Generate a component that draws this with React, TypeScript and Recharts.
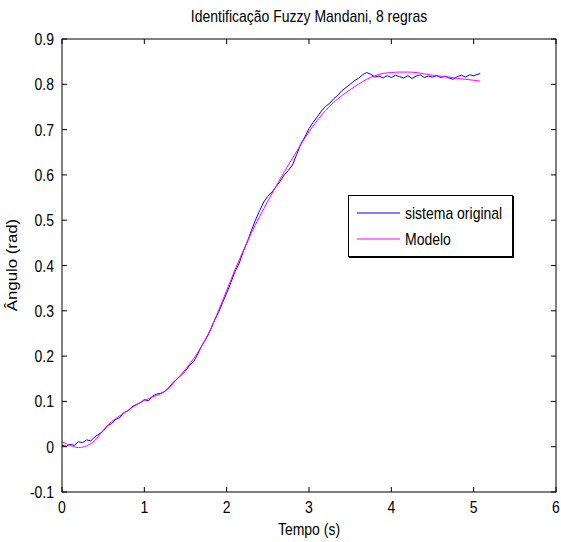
import React from "react";
import {
  LineChart,
  Line,
  XAxis,
  YAxis,
  Legend,
  Label,
} from "recharts";

// tempo (s) e ângulo (rad) do sistema original (amostras)
const tempoSistema = [
  0, 0.05, 0.1, 0.15, 0.2, 0.25, 0.3, 0.35, 0.4, 0.45,
  0.5, 0.55, 0.6, 0.65, 0.7, 0.75, 0.8, 0.85, 0.9, 0.95,
  1.0, 1.05, 1.1, 1.15, 1.2, 1.25, 1.3, 1.35, 1.4, 1.45,
  1.5, 1.55, 1.6, 1.65, 1.7, 1.75, 1.8, 1.85, 1.9, 1.95,
  2.0, 2.05, 2.1, 2.15, 2.2, 2.25, 2.3, 2.35, 2.4, 2.45,
  2.5, 2.55, 2.6, 2.65, 2.7, 2.75, 2.8, 2.85, 2.9, 2.95,
  3.0, 3.05, 3.1, 3.15, 3.2, 3.25, 3.3, 3.35, 3.4, 3.45,
  3.5, 3.55, 3.6, 3.65, 3.7, 3.75, 3.8, 3.85, 3.9, 3.95,
  4.0, 4.05, 4.1, 4.15, 4.2, 4.25, 4.3, 4.35, 4.4, 4.45,
  4.5, 4.55, 4.6, 4.65, 4.7, 4.75, 4.8, 4.85, 4.9, 4.95,
  5.0, 5.08,
];
const anguloSistema = [
  0.003, 0.001, 0.005, 0.003, 0.011, 0.009, 0.015, 0.013, 0.022, 0.028,
  0.034, 0.046, 0.051, 0.06, 0.064, 0.075, 0.079, 0.088, 0.093, 0.097,
  0.104, 0.101, 0.112, 0.116, 0.118, 0.122, 0.131, 0.142, 0.15, 0.158,
  0.167, 0.18, 0.188, 0.205, 0.224, 0.238, 0.256, 0.278, 0.296, 0.318,
  0.339, 0.362, 0.386, 0.404, 0.43, 0.452, 0.477, 0.5, 0.521, 0.54,
  0.553, 0.562, 0.574, 0.586, 0.6, 0.61, 0.622, 0.645, 0.668, 0.684,
  0.702, 0.716, 0.728, 0.741, 0.751, 0.758, 0.768, 0.776, 0.786, 0.793,
  0.8, 0.808, 0.813, 0.821, 0.826, 0.822, 0.816, 0.818, 0.814, 0.819,
  0.815, 0.82, 0.817, 0.814, 0.819, 0.813, 0.818, 0.821, 0.815, 0.818,
  0.816, 0.819, 0.815, 0.818, 0.814, 0.811, 0.817, 0.82, 0.816, 0.821,
  0.819, 0.824,
];

// saída do modelo fuzzy
const tempoModelo = [
  0, 0.1, 0.2, 0.3, 0.4, 0.5, 0.6, 0.7, 0.8, 0.9,
  1.0, 1.1, 1.2, 1.3, 1.4, 1.5, 1.6, 1.7, 1.8, 1.9,
  2.0, 2.1, 2.2, 2.3, 2.4, 2.5, 2.6, 2.7, 2.8, 2.9,
  3.0, 3.1, 3.2, 3.3, 3.4, 3.5, 3.6, 3.7, 3.8, 3.9,
  4.0, 4.1, 4.2, 4.3, 4.4, 4.5, 4.6, 4.7, 4.8, 4.9,
  5.0, 5.08,
];
const anguloModelo = [
  0.011, 0.003, -0.002, 0.002, 0.014, 0.036, 0.055, 0.068, 0.08, 0.092,
  0.102, 0.11, 0.117, 0.13, 0.15, 0.171, 0.195, 0.223, 0.258, 0.3,
  0.345, 0.39, 0.432, 0.472, 0.508, 0.542, 0.575, 0.607, 0.637, 0.667,
  0.695, 0.72, 0.742, 0.76, 0.775, 0.788, 0.8, 0.811, 0.819, 0.824,
  0.826, 0.827, 0.827, 0.826, 0.823, 0.82, 0.818, 0.816, 0.813, 0.811,
  0.809, 0.807,
];

const xTicks = [0, 1, 2, 3, 4, 5, 6];
const yTicks = [-0.1, 0, 0.1, 0.2, 0.3, 0.4, 0.5, 0.6, 0.7, 0.8, 0.9];

const sistemaData = tempoSistema.map((t, i) => ({ t, v: anguloSistema[i] }));
const modeloData = tempoModelo.map((t, i) => ({ t, v: anguloModelo[i] }));

const FONT = "'Liberation Sans', Arial, Helvetica, sans-serif";
const TICK_LEN = 5;

// texto um pouco esticado na vertical, como no original
const Txt = ({ x, y, anchor = "start", rotate = 0, children }: any) => (
  <text
    transform={`translate(${x},${y}) scale(1,1.2) rotate(${rotate})`}
    textAnchor={anchor}
    fontFamily={FONT}
    fontSize={14}
    fill="#000"
  >
    {children}
  </text>
);

const BottomTick = (props: any) => {
  const { x, y, payload } = props;
  return (
    <g>
      <line x1={x} x2={x} y1={y} y2={y - TICK_LEN} stroke="#000" />
      <Txt x={x} y={y + 21} anchor="middle">
        {String(payload.value)}
      </Txt>
    </g>
  );
};

const TopTick = (props: any) => {
  const { x, y } = props;
  return <line x1={x} x2={x} y1={y} y2={y + TICK_LEN} stroke="#000" />;
};

const LeftTick = (props: any) => {
  const { x, y, payload } = props;
  return (
    <g>
      <line x1={x} x2={x + TICK_LEN} y1={y} y2={y} stroke="#000" />
      <Txt x={x - 8} y={y + 6} anchor="end">
        {String(payload.value)}
      </Txt>
    </g>
  );
};

const RightTick = (props: any) => {
  const { x, y } = props;
  return <line x1={x} x2={x - TICK_LEN} y1={y} y2={y} stroke="#000" />;
};

const LegendBox = () => (
  <div
    style={{
      width: 165,
      height: 62,
      border: "1px solid #000",
      boxSizing: "border-box",
      background: "#fff",
      boxShadow: "1px 1px 0 #000",
    }}
  >
    <svg width={163} height={60} style={{ display: "block" }}>
      <line x1={8} x2={51} y1={17} y2={17} stroke="#0000ff" />
      <Txt x={56} y={23}>sistema original</Txt>
      <line x1={8} x2={51} y1={43} y2={43} stroke="#ff00ff" />
      <Txt x={56} y={49}>Modelo</Txt>
    </svg>
  </div>
);

export default function App() {
  return (
    <div style={{ position: "absolute", left: 0, top: 0, width: 561, height: 542, background: "#fff" }}>
      <LineChart width={561} height={542} margin={{ top: 38, right: 4, bottom: 0, left: 0 }}>
        <XAxis
          dataKey="t"
          type="number"
          domain={[0, 6]}
          ticks={xTicks}
          height={50}
          tickSize={0}
          tickMargin={0}
          tick={BottomTick}
          axisLine={{ stroke: "#000" }}
          label={<Label content={() => <Txt x={309} y={535} anchor="middle">Tempo (s)</Txt>} />}
        />
        <XAxis
          xAxisId="top"
          dataKey="t"
          orientation="top"
          type="number"
          domain={[0, 6]}
          ticks={xTicks}
          height={1}
          tickSize={0}
          tickMargin={0}
          tick={TopTick}
          axisLine={{ stroke: "#000" }}
          label={
            <Label
              content={() => (
                <Txt x={309} y={22} anchor="middle">
                  Identificação Fuzzy Mandani, 8 regras
                </Txt>
              )}
            />
          }
        />
        <YAxis
          type="number"
          domain={[-0.1, 0.9]}
          ticks={yTicks}
          width={62}
          tickSize={0}
          tickMargin={0}
          tick={LeftTick}
          axisLine={{ stroke: "#000" }}
          label={
            <Label
              content={() => (
                <Txt x={17} y={265} anchor="middle" rotate={-90}>
                  Ângulo (rad)
                </Txt>
              )}
            />
          }
        />
        <YAxis
          yAxisId="right"
          orientation="right"
          type="number"
          domain={[-0.1, 0.9]}
          ticks={yTicks}
          width={1}
          tickSize={0}
          tickMargin={0}
          tick={RightTick}
          axisLine={{ stroke: "#000" }}
        />
        <Legend
          layout="vertical"
          align="center"
          verticalAlign="middle"
          content={() => <LegendBox />}
          wrapperStyle={{ position: "absolute", left: 348, top: 195, width: 165, height: 62 }}
        />
        <Line
          data={sistemaData}
          dataKey="v"
          name="sistema original"
          type="linear"
          stroke="#0000ff"
          strokeWidth={1}
          dot={false}
          isAnimationActive={false}
        />
        <Line
          data={modeloData}
          xAxisId="top"
          yAxisId="right"
          dataKey="v"
          name="Modelo"
          type="monotone"
          stroke="#ff00ff"
          strokeWidth={1}
          dot={false}
          isAnimationActive={false}
        />
      </LineChart>
    </div>
  );
}
